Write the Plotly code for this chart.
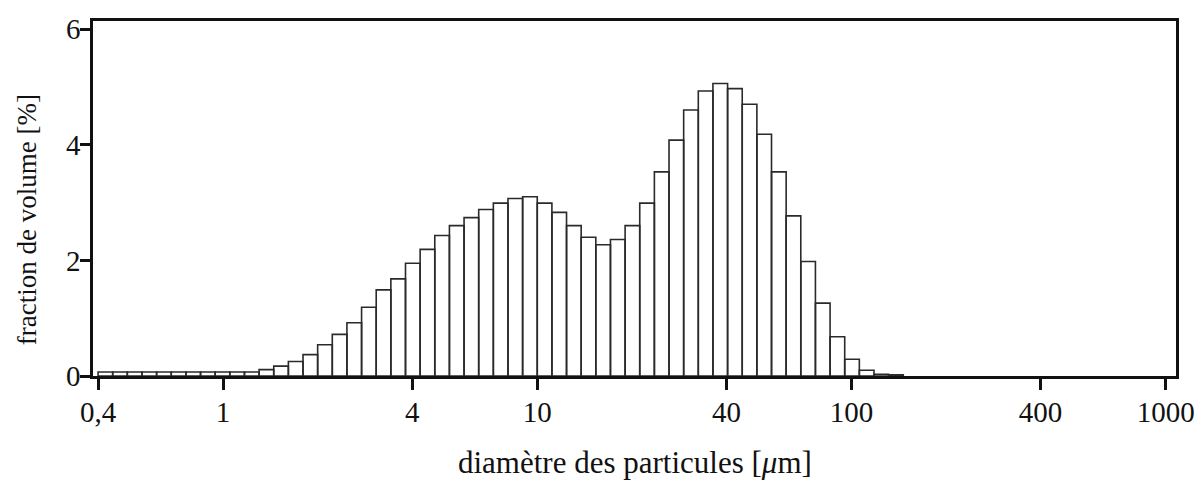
import plotly.graph_objects as go

# Bin edges (µm) of the size classes (log-spaced channels)
BIN_EDGES = [0.4, 0.4453, 0.4957, 0.5519, 0.6144, 0.684, 0.7615, 0.8477, 0.9437, 1.0506,
             1.1696, 1.3021, 1.4496, 1.6137, 1.7965, 2.0, 2.2265, 2.4787, 2.7595, 3.072,
             3.42, 3.8073, 4.2385, 4.7186, 5.253, 5.848, 6.5104, 7.2478, 8.0687, 8.9826,
             10.0, 11.133, 12.393, 13.797, 15.36, 17.1, 19.037, 21.193, 23.593, 26.265,
             29.24, 32.552, 36.239, 40.343, 44.913, 50.0, 55.663, 61.968, 68.986, 76.8,
             85.499, 95.183, 105.96, 117.97, 131.33, 146.2]

# Volume fraction [%] of each class
VOLUME_PCT = [0.07, 0.07, 0.07, 0.07, 0.07, 0.07, 0.07, 0.07, 0.07, 0.07,
              0.07, 0.11, 0.17, 0.25, 0.37, 0.54, 0.72, 0.92, 1.19, 1.49,
              1.68, 1.95, 2.19, 2.43, 2.60, 2.74, 2.88, 2.99, 3.07, 3.10,
              2.99, 2.83, 2.60, 2.40, 2.27, 2.36, 2.60, 2.99, 3.53, 4.08,
              4.60, 4.93, 5.06, 4.97, 4.70, 4.18, 3.53, 2.77, 1.98, 1.26,
              0.68, 0.29, 0.10, 0.03, 0.02]

X_TICK_VALS = [0.4, 1, 4, 10, 40, 100, 400, 1000]
X_TICK_TEXT = ["0,4", "1", "4", "10", "40", "100", "400", "1000"]
Y_TICK_VALS = [0, 2, 4, 6]
Y_TICK_TEXT = ["0", "2", "4", "6"]

X_TITLE = "diamètre des particules [<i>μ</i>m]"
Y_TITLE = "fraction de volume [%]"

# build closed outlines of every bar (one polygon per class)
xs, ys = [], []
for i, h in enumerate(VOLUME_PCT):
    a, b = BIN_EDGES[i], BIN_EDGES[i + 1]
    xs += [a, a, b, b, a, None]
    ys += [0, h, h, 0, 0, None]

FONT = "Liberation Serif"

fig = go.Figure()
fig.add_trace(go.Scatter(
    x=xs, y=ys, mode="lines", fill="toself", fillcolor="white",
    line=dict(color="#2a2a2a", width=1.6), hoverinfo="skip", showlegend=False,
))

axis_common = dict(
    showline=True, linecolor="#111", linewidth=2.6, mirror=True,
    ticks="outside", tickcolor="#111", tickwidth=2.6,
    showgrid=False, zeroline=False,
    tickfont=dict(family=FONT, size=29, color="#111"),
)

# the page body has an 8px margin: the figure is sized/margined so that the
# plot area lands at x 93..1176, y 13..376 in the window
fig.update_layout(
    width=1195, height=478,
    margin=dict(l=85, r=27, t=5, b=110),
    paper_bgcolor="white", plot_bgcolor="white",
    xaxis=dict(type="log", range=[-0.414, 3.033], tickvals=X_TICK_VALS,
               ticktext=X_TICK_TEXT, ticklen=11, ticklabelstandoff=-3,
               **axis_common),
    yaxis=dict(range=[0, 6.14], tickvals=Y_TICK_VALS, ticktext=Y_TICK_TEXT,
               ticklen=10, ticklabelstandoff=-6, **axis_common),
    annotations=[
        dict(text=X_TITLE, xref="paper", yref="paper", x=0.5, y=-0.245,
             xanchor="center", yanchor="middle", showarrow=False,
             font=dict(family=FONT, size=31, color="#111")),
        dict(text=Y_TITLE, xref="paper", yref="paper", x=-0.0615, y=0.44,
             xanchor="center", yanchor="middle", textangle=-90, showarrow=False,
             borderpad=0, font=dict(family=FONT, size=27, color="#111")),
    ],
)

fig.write_html("out.html")
